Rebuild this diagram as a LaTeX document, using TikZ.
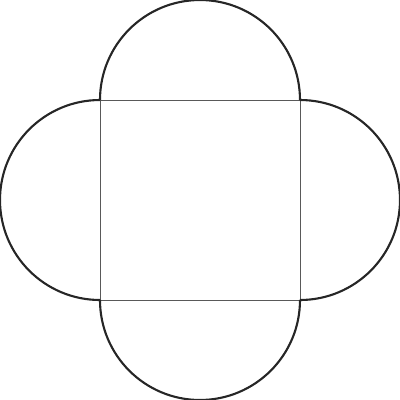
\documentclass[tikz,border=0pt]{standalone}
\tikzset{petal/.style={draw=black!85,line width=0.6pt},
  square/.style={draw=black!65,line width=0.25pt}}
\begin{document}
\begin{tikzpicture}
\useasboundingbox (-2,-2) rectangle (2,2);
\draw[square] (-1,-1) rectangle (1,1);
% four half circles on the sides
\draw[petal] (-1,1) arc (180:0:1);
\draw[petal] (1,1) arc (90:-90:1);
\draw[petal] (1,-1) arc (0:-180:1);
\draw[petal] (-1,-1) arc (270:90:1);
\end{tikzpicture}
\end{document}
